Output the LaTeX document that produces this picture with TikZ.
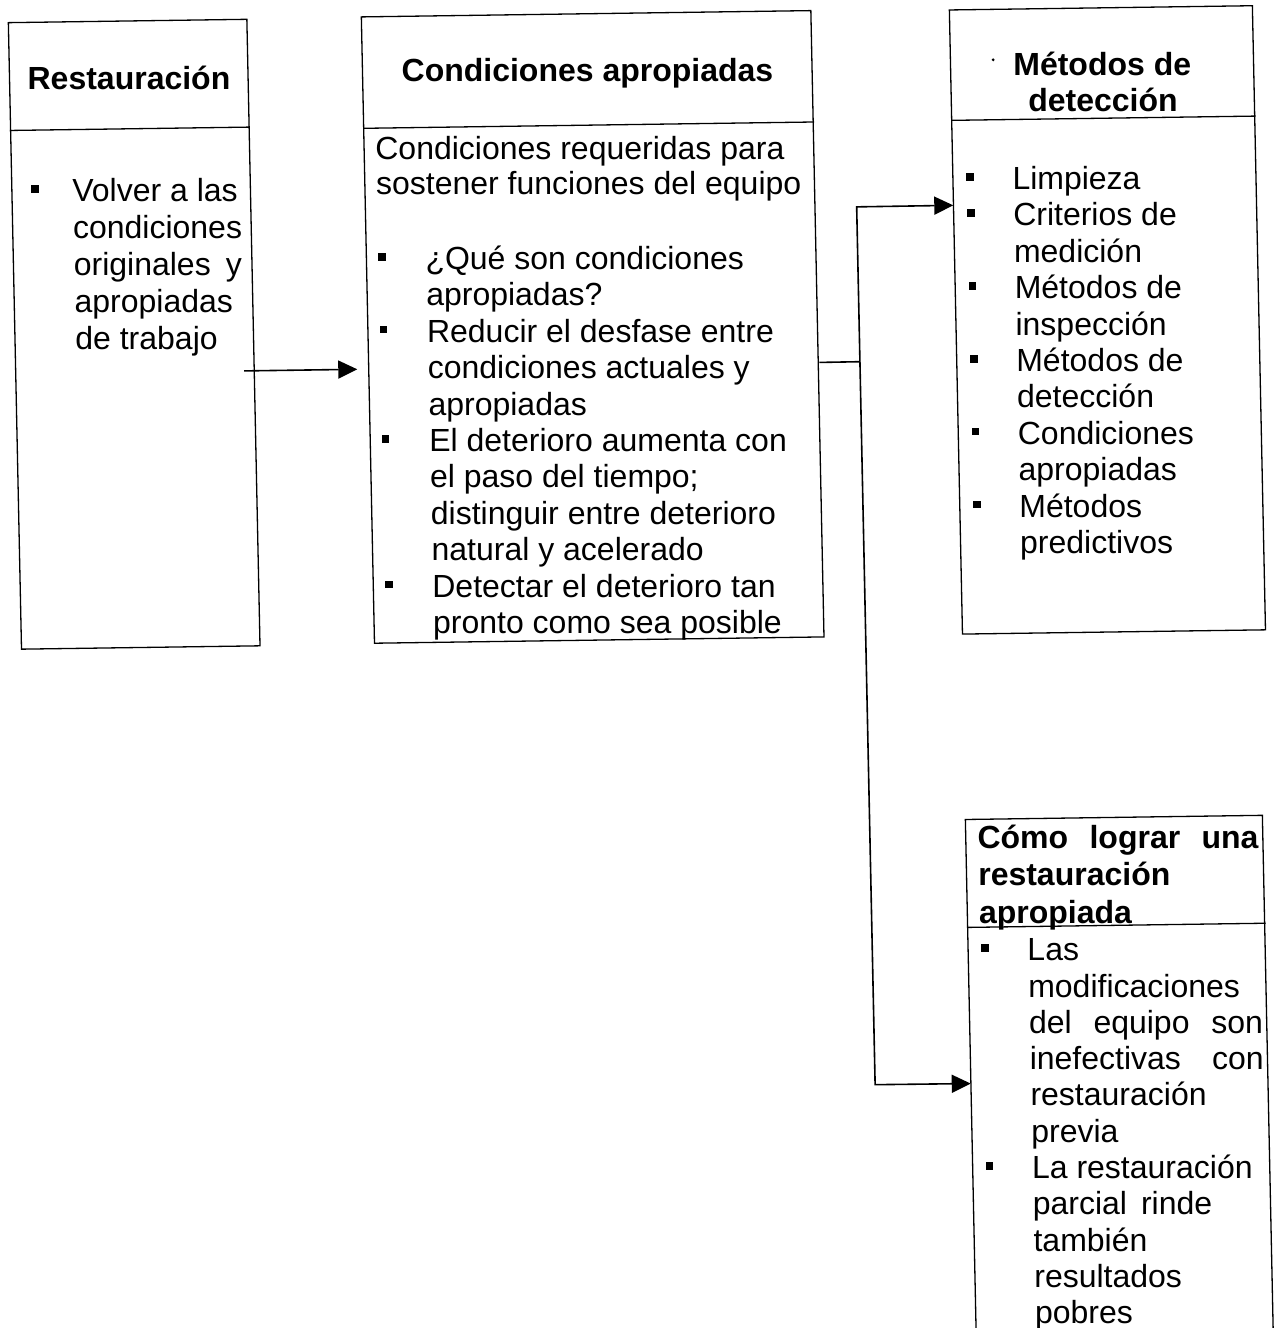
\documentclass[tikz,border=0pt]{standalone}
\usepackage{fontspec}
\setmainfont{Liberation Sans}
\usetikzlibrary{arrows.meta,calc}
\tikzset{
  frame/.style={draw, line width=1.3pt, inner sep=0pt, transform shape},
  rulebar/.style={line width=1.3pt},
  txt/.style={anchor=mid west, inner sep=0pt, font=\fontsize{32}{36}\selectfont},
  ttl/.style={anchor=mid, inner sep=0pt, font=\bfseries\fontsize{32}{36}\selectfont},
  ttlw/.style={ttl, anchor=mid west},
  bul/.style={fill, minimum size=7.5pt, inner sep=0pt},
  link/.style={line width=1.6pt},
  tip/.tip={Triangle[length=19pt,width=18pt]},
}
\begin{document}
\begin{tikzpicture}[x=1pt,y=-1pt]
\useasboundingbox (0,0) rectangle (1279,1328);
\clip (0,0) rectangle (1279,1328);
% the whole sheet leans slightly: verticals lean right, horizontals rise
\begin{scope}[cm={1,0.014,-0.021,1,(-13.94pt,-8.96pt)}]

% ---- frames ----
\node[frame, minimum width=238.5pt, minimum height=626.5pt] (A) at (141.25,327.25) {};
\node[frame, minimum width=449.5pt, minimum height=626.3pt] (B) at (599.75,326.35) {};
\node[frame, minimum width=303pt, minimum height=624.1pt] (C) at (1114.5,326.55) {};
\node[frame, minimum width=297pt, minimum height=526pt] (D) at (1110.5,1087) {};

% ---- header rules ----
\draw[rulebar] ($(A.north west)!0.1727!(A.south west)$) -- ($(A.north east)!0.1727!(A.south east)$);
\draw[rulebar] ($(B.north west)!0.1785!(B.south west)$) -- ($(B.north east)!0.1785!(B.south east)$);
\draw[rulebar] ($(C.north west)!0.1775!(C.south west)$) -- ($(C.north east)!0.1775!(C.south east)$);
\draw[rulebar] ($(D.north west)!0.2055!(D.south west)$) -- ($(D.north east)!0.2055!(D.south east)$);

% ---- titles ----
\node[ttl] (tA) at (141.25,79.8) {Restauración};
\node[ttl] (tB) at (599.75,78.3) {Condiciones apropiadas};
\node[ttl] (tC1) at (1114.5,79.4) {Métodos de};
\node[ttl] (tC2) at (1114.5,115.4) {detección};
\fill (1005.7,64.9) circle (1.6pt);
\node[ttlw] (tD1) at (973.4,850.7) {\hbox to 281pt{Cómo\hfill lograr\hfill una}};
\node[ttlw] (tD2) at (973.4,887.7) {restauración};
\node[ttlw] (tD3) at (973.4,925.2) {apropiada};

% ---- box A ----
\node[bul] (bA) at (45,180.7) {};
\foreach \s [count=\i from 0] in {Volver a las, condiciones,
    \hbox to 168pt{originales\hfill y}, apropiadas, de trabajo}
  \node[txt] (lA\i) at (82,{191+37*\i}) {\s};

% ---- box B ----
\node[txt] (iB0) at (385.9,153.3) {Condiciones requeridas para};
\node[txt] (iB1) at (385.9,188.3) {sostener funciones del equipo};
\foreach \k in {0,2,5,9}
  \node[bul] (bB\k) at (390.5,{253.4+36.4*\k}) {};
\foreach \s [count=\i from 0] in {¿Qué son condiciones, apropiadas?,
    Reducir el desfase entre, condiciones actuales y, apropiadas,
    El deterioro aumenta con, el paso del tiempo;, distinguir entre deterioro,
    natural y acelerado, Detectar el deterioro tan, pronto como sea posible}
  \node[txt] (lB\i) at (433.7,{264+36.4*\i}) {\s};

% ---- box C ----
\foreach \k in {0,1,3,5,7,9}
  \node[bul] (bC\k) at (980.2,{181.6+36.4*\k}) {};
\foreach \s [count=\i from 0] in {Limpieza, Criterios de, medición,
    Métodos de, inspección, Métodos de, detección, Condiciones,
    apropiadas, Métodos, predictivos}
  \node[txt] (lC\i) at (1022.2,{192.2+36.4*\i}) {\s};

% ---- box D ----
\foreach \k in {0,6}
  \node[bul] (bD\k) at (979,{952.8+36.3*\k}) {};
\foreach \s [count=\i from 0] in {Las, modificaciones,
    \hbox to 234pt{del\hfill equipo\hfill son},
    \hbox to 234pt{inefectivas\hfill con}, restauración, previa,
    La restauración, parcial\hspace{14pt}rinde, también, resultados, pobres}
  \node[txt] (lD\i) at (1021,{963.4+36.3*\i}) {\s};

% ---- connectors ----
\coordinate (aOut) at ($(A.north east)!0.5606!(A.south east)$);
\coordinate (bIn)  at ($(B.north west)!0.5620!(B.south west)$);
\draw[link, -tip, shorten <=-11pt, shorten >=11pt] (aOut) -- (bIn);

\coordinate (bOut) at ($(B.north east)!0.5614!(B.south east)$);
\coordinate (t0) at (866,364.8);
\coordinate (t1) at (866,210);
\coordinate (t2) at (866,1087.6);
\coordinate (cIn) at ($(C.north west)!0.3133!(C.south west)$);
\coordinate (dIn) at ($(D.north west)!0.5011!(D.south west)$);
\draw[link] (bOut) -- (t0);
\draw[link, tip-tip] (cIn) -- (t1) -- (t2) -- (dIn);

\end{scope}
\end{tikzpicture}
\end{document}
